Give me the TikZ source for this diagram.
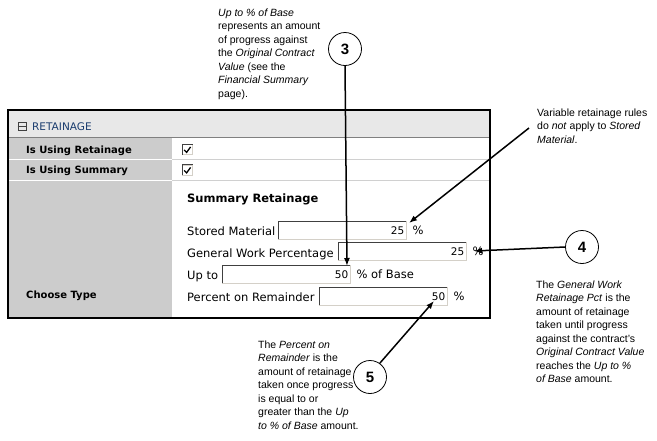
\documentclass[tikz,border=0pt]{standalone}
\usepackage{fontspec}
\setmainfont{Liberation Sans}
\newfontfamily\uifont{DejaVu Sans}
\usetikzlibrary{arrows.meta}
\definecolor{headbg}{HTML}{E8E8E8}
\definecolor{labelbg}{HTML}{CCCCCC}
\definecolor{headblue}{HTML}{1A3C6E}
\definecolor{fielddk}{HTML}{404040}
\definecolor{fieldlt}{HTML}{D4D0C8}
\definecolor{rowline}{HTML}{D0D0D0}
\begin{document}
\begin{tikzpicture}[x=1pt,y=-1pt,
  notetext/.style={anchor=north west,align=left,inner sep=0pt,font=\fontsize{10.5}{13.5}\selectfont},
  calloutdecorate/.style={shape=circle,draw,thick,minimum size=33pt,inner sep=0pt,font=\fontsize{15}{15}\selectfont\bfseries},
  arrowdecorate/.style={-{Latex[length=8pt,width=6pt]},line width=1.5pt},
  labeldecorate/.style={anchor=base west,inner sep=0pt,font=\uifont\bfseries\fontsize{10}{12}\selectfont},
  uidecorate/.style={anchor=base west,inner sep=0pt,font=\uifont\fontsize{11.5}{13}\selectfont},
  fielddecorate/.style={anchor=north west,draw=fieldlt,fill=white,text width=124pt,align=right,
    inner xsep=2pt,inner ysep=0pt,minimum height=18pt,font=\uifont\fontsize{10.5}{11}\selectfont},
  boxdecorate/.style={draw=fieldlt,fill=white,line width=0.8pt,minimum size=10pt,inner sep=0pt}]
\useasboundingbox (0,0) rectangle (657,440);
%% panel background
\fill[headbg] (8,110) rectangle (490,137);
\fill[labelbg] (8,137) rectangle (172,318);
\draw[gray] (8,137) -- (490,137);
\foreach \y in {159,180} {
  \draw[white,line width=1pt] (8,\y) -- (172,\y);
  \draw[rowline] (172,\y) -- (490,\y);
}
\draw[line width=2pt] (8,110) rectangle (490,318);
%% header
\node (minus) at (22,126) [draw=fielddk,line width=0.8pt,minimum size=8pt,inner sep=0pt] {};
\draw[fielddk,line width=0.8pt] (minus.west) -- (minus.east);
\node (head) at (32,130) [uidecorate,text=headblue,font=\uifont\fontsize{10.5}{12}\selectfont] {RETAINAGE};
%% row labels
\foreach \nodename/\y/\text in {
  lretain/153/Is Using Retainage, lsummary/173/Is Using Summary, ltype/298/Choose Type}
{
  \node (\nodename) at (26,\y) [labeldecorate] {\text};
}
%% check boxes
\foreach \nodename/\y in {cretain/149.5, csummary/170}
{
  \node (\nodename) at (187.5,\y) [boxdecorate] {};
  \draw[fielddk,line width=1pt] (\nodename.south west) |- (\nodename.north east);
  \draw[line width=1.3pt] ([shift={(2,-5)}]\nodename.south west) -- ([shift={(4.5,-2.5)}]\nodename.south west)
    -- ([shift={(8.5,-8)}]\nodename.south west);
}
%% summary retainage
\node (title) at (187,202) [uidecorate,font=\uifont\bfseries\fontsize{11.5}{14}\selectfont] {Summary Retainage};
\foreach \nodename/\y/\text in {
  tstored/235/Stored Material, tgeneral/257/General Work Percentage,
  tupto/279/Up to, tremain/301/Percent on Remainder}
{
  \node (\nodename) at (187,\y) [uidecorate] {\text};
}
\foreach \nodename/\x/\y/\value/\unit in {
  fstored/278/221/25/\%, fgeneral/338/242/25/\%,
  fupto/222/265/50/\% of Base, fremain/319/287/50/\%}
{
  \node (\nodename) at (\x,\y) [fielddecorate] {\value};
  \draw[fielddk,line width=1pt] (\nodename.south west) |- (\nodename.north east);
  \node (u\nodename) at ([xshift=6pt]\nodename.east) [uidecorate,anchor=west] {\unit};
}
%% notes
\node (n3) at (218,8.5) [notetext] {\textit{Up to \% of Base}\\represents an amount\\of progress against\\the \textit{Original Contract}\\\textit{Value} (see the\\\textit{Financial Summary}\\page).};
\node (nvar) at (537,108.5) [notetext] {Variable retainage rules\\do \textit{not} apply to \textit{Stored}\\\textit{Material}.};
\node (n4) at (536,280.5) [notetext] {The \textit{General Work}\\\textit{Retainage Pct} is the\\amount of retainage\\taken until progress\\against the contract's\\\textit{Original Contract Value}\\reaches the \textit{Up to \%}\\\textit{of Base} amount.};
\node (n5) at (258,340.5) [notetext] {The \textit{Percent on}\\\textit{Remainder} is the\\amount of retainage\\taken once progress\\is equal to or\\greater than the \textit{Up}\\\textit{to \% of Base} amount.};
%% callouts
\foreach \nodename/\x/\y in {3/345/49, 4/582/247, 5/370/377}
{
  \node (c\nodename) at (\x,\y) [calloutdecorate] {\nodename};
}
\coordinate (vstart) at (529,128);
\coordinate (tip3) at (347,266);
\coordinate (tip4) at (474,251);
\coordinate (tip5) at (434,301);
\coordinate (tipvar) at (409,223);
%% arrows
\draw[arrowdecorate] (vstart) -- (tipvar);
\draw[arrowdecorate] (c3.south) -- (tip3);
\draw[arrowdecorate] (c4.west) -- (tip4);
\draw[arrowdecorate] ([shift={(-2,-2)}]c5.north east) -- (tip5);
\end{tikzpicture}
\end{document}
